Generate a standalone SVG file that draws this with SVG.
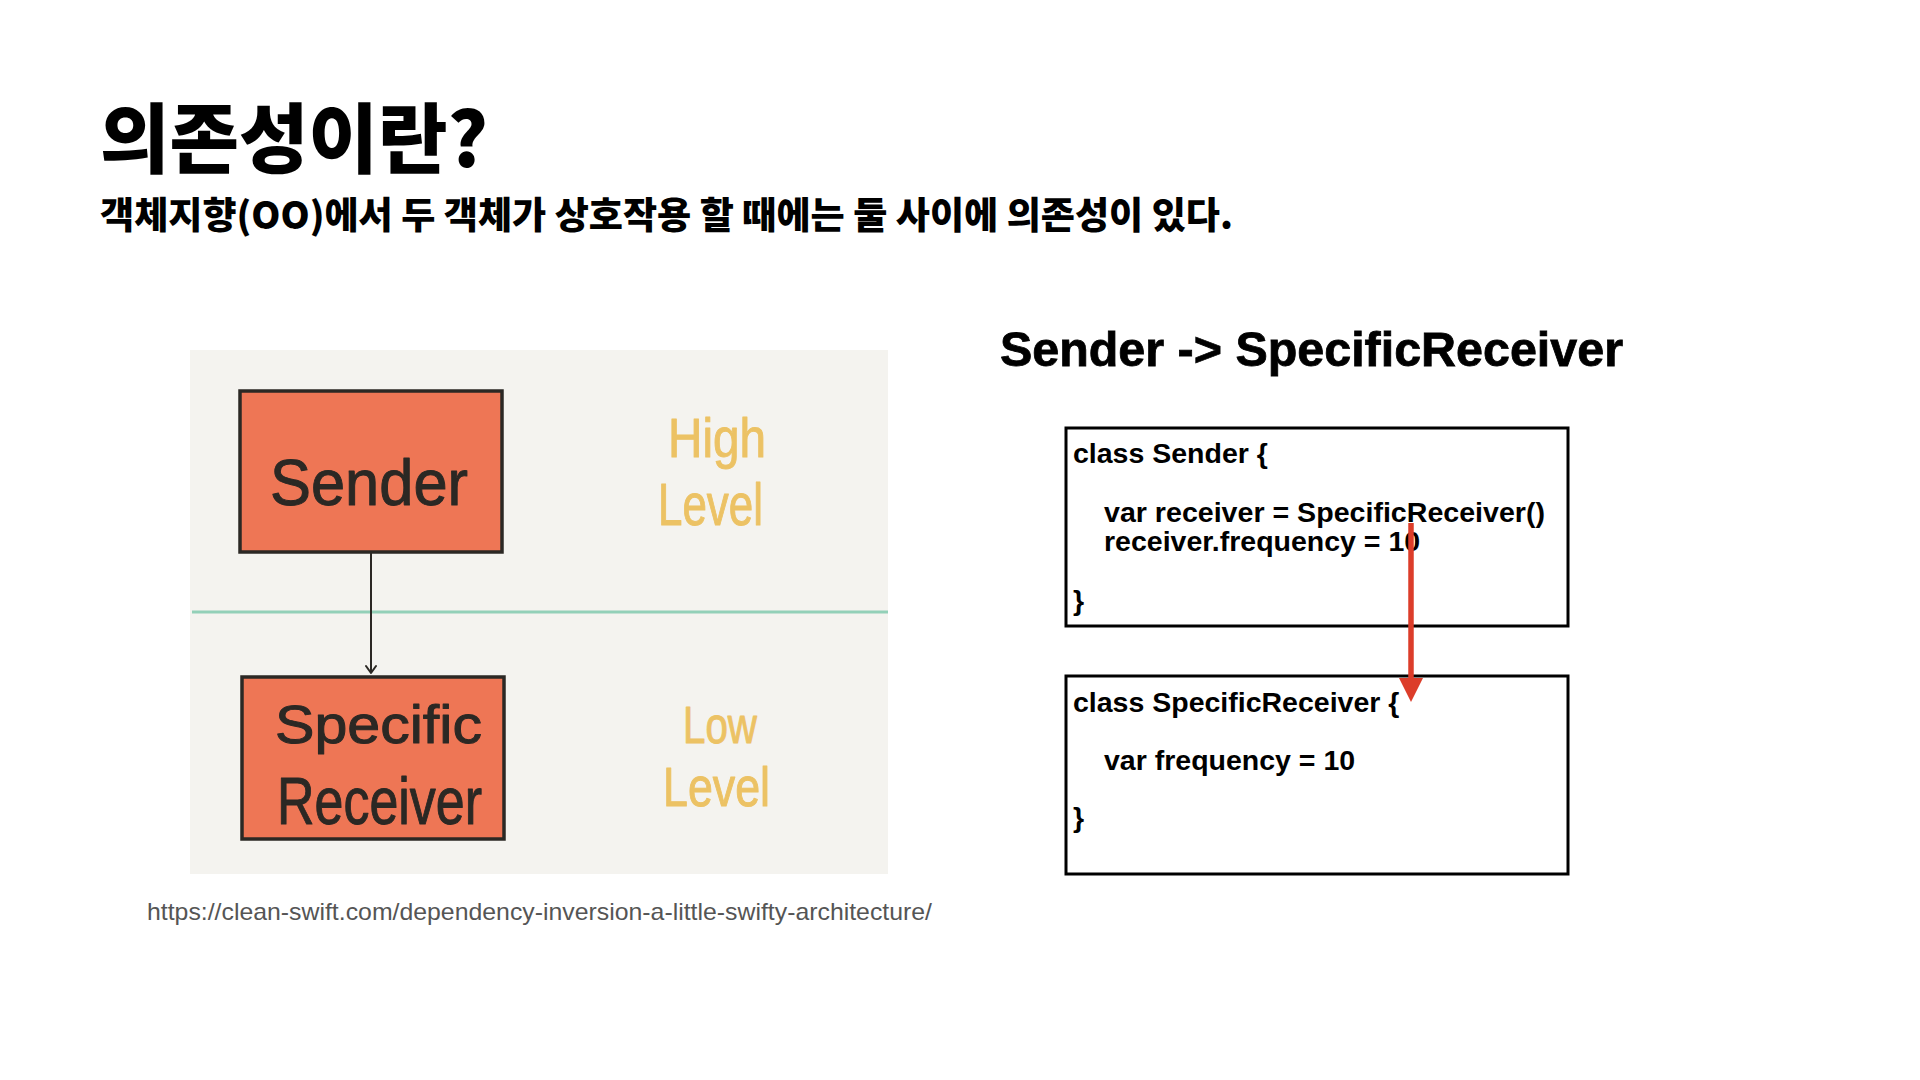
<svg xmlns="http://www.w3.org/2000/svg" width="1920" height="1080" viewBox="0 0 1920 1080">
  <defs>
    <style>
      .ko { font-family: "Noto Sans CJK KR", "Noto Sans", sans-serif; fill: #000; }
      .code { font-family: "Liberation Sans", Arial, sans-serif; font-weight: bold; font-size: 28.5px; fill: #000; }
      .hand { font-family: "Liberation Sans", Arial, sans-serif; font-weight: normal; stroke-linejoin: round; stroke-linecap: round; }
      .handDark { fill: #2b2824; stroke: #2b2824; stroke-width: 1; }
      .handGold { fill: #ecc264; stroke: #ecc264; stroke-width: 1; }
      .sketchBox { fill: #ee7655; stroke: #2b2824; stroke-width: 3.5; }
      .codeBox { fill: #fff; stroke: #000; stroke-width: 3; }
    </style>
    <marker id="blackHead" viewBox="0 0 12 12" refX="10" refY="6" markerWidth="12" markerHeight="12" markerUnits="userSpaceOnUse" orient="auto">
      <path d="M3,1 L10,6 L3,11" fill="none" stroke="#2b2824" stroke-width="2" stroke-linecap="round" stroke-linejoin="round"/>
    </marker>
  </defs>

  <rect x="0" y="0" width="1920" height="1080" fill="#ffffff"/>

  <!-- Headings -->
  <g id="title">
    <text class="ko" x="100" y="167" font-size="76" font-weight="900" textLength="388" lengthAdjust="spacingAndGlyphs">의존성이란?</text>
  </g>
  <g id="subtitle">
    <text class="ko" x="100" y="229" font-size="37" font-weight="900" textLength="1133" lengthAdjust="spacingAndGlyphs">객체지향(OO)에서 두 객체가 상호작용 할 때에는 둘 사이에 의존성이 있다.</text>
  </g>

  <!-- Left sketch panel -->
  <g id="sketch-panel">
    <rect x="190" y="350" width="698" height="524" fill="#f4f3ef"/>
    <line x1="192" y1="612" x2="888" y2="612" stroke="#93d0b8" stroke-width="3"/>
  </g>

  <g id="node-sender">
    <rect class="sketchBox" x="240" y="391" width="262" height="161"/>
    <text class="hand handDark" x="270" y="505" font-size="64" textLength="198" lengthAdjust="spacingAndGlyphs">Sender</text>
  </g>

  <g id="node-specific-receiver">
    <rect class="sketchBox" x="242" y="677" width="262" height="162"/>
    <text class="hand handDark" x="275" y="743" font-size="54" textLength="207" lengthAdjust="spacingAndGlyphs">Specific</text>
    <text class="hand handDark" x="277" y="824" font-size="66" textLength="205" lengthAdjust="spacingAndGlyphs">Receiver</text>
  </g>

  <g id="label-high-level">
    <text class="hand handGold" x="668" y="457" font-size="56" textLength="98" lengthAdjust="spacingAndGlyphs">High</text>
    <text class="hand handGold" x="658" y="525" font-size="59" textLength="105" lengthAdjust="spacingAndGlyphs">Level</text>
  </g>

  <g id="label-low-level">
    <text class="hand handGold" x="683" y="743" font-size="52" textLength="74" lengthAdjust="spacingAndGlyphs">Low</text>
    <text class="hand handGold" x="663" y="806" font-size="56" textLength="107" lengthAdjust="spacingAndGlyphs">Level</text>
  </g>

  <g id="source-url">
    <text x="147" y="920" font-family="'Liberation Sans', Arial, sans-serif" font-size="24" fill="#555555" textLength="785" lengthAdjust="spacingAndGlyphs">https://clean-swift.com/dependency-inversion-a-little-swifty-architecture/</text>
  </g>

  <!-- Right side -->
  <g id="heading-dependency">
    <text x="1000" y="366" font-family="'Liberation Sans', Arial, sans-serif" font-weight="bold" font-size="49" fill="#000" stroke="#000" stroke-width="0.8" textLength="623" lengthAdjust="spacingAndGlyphs">Sender -&gt; SpecificReceiver</text>
  </g>

  <g id="node-class-sender">
    <rect class="codeBox" x="1066" y="428" width="502" height="198"/>
    <text class="code" x="1073" y="463">class Sender {</text>
    <text class="code" x="1104" y="522" textLength="441" lengthAdjust="spacingAndGlyphs">var receiver = SpecificReceiver()</text>
    <text class="code" x="1104" y="551">receiver.frequency = 10</text>
    <text class="code" x="1073" y="610">}</text>
  </g>

  <g id="node-class-specific-receiver">
    <rect class="codeBox" x="1066" y="676" width="502" height="198"/>
    <text class="code" x="1073" y="712">class SpecificReceiver {</text>
    <text class="code" x="1104" y="770">var frequency = 10</text>
    <text class="code" x="1073" y="827">}</text>
  </g>

  <!-- Connectors -->
  <g id="connectors">
    <line x1="371" y1="553" x2="371" y2="673" stroke="#2b2824" stroke-width="2" marker-end="url(#blackHead)"/>
    <line x1="1411" y1="523" x2="1411" y2="682" stroke="#dc3d2a" stroke-width="5.5"/>
    <polygon points="1399,678 1423,678 1411,702" fill="#dc3d2a"/>
  </g>
</svg>
